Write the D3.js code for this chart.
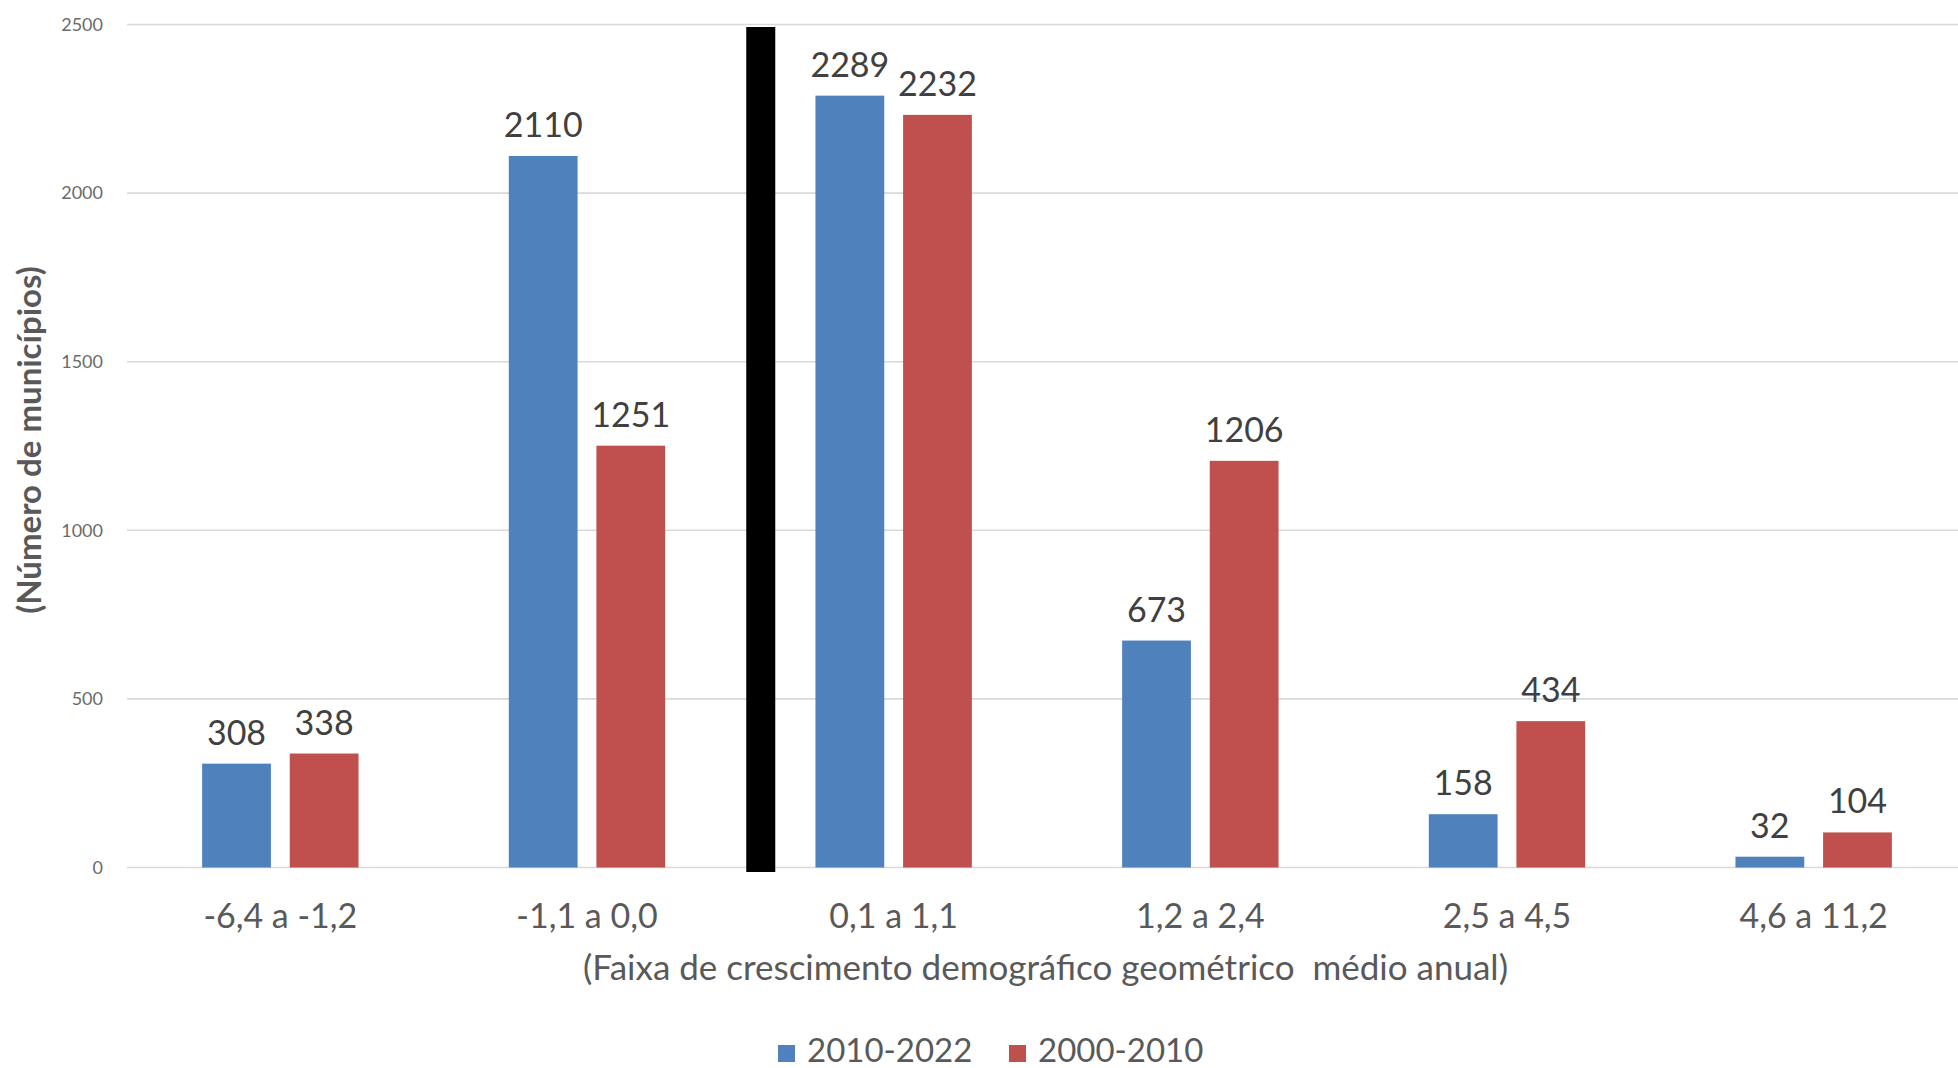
<!DOCTYPE html>
<html>
<head>
<meta charset="utf-8">
<script src="https://cdn.jsdelivr.net/npm/d3@7"></script>
<style>
  html, body { margin: 0; padding: 0; background: #fff; }
  svg { display: block; font-family: Lato, "Open Sans", sans-serif; }
</style>
</head>
<body>
<svg id="chart" width="1958" height="1068"></svg>
<script>
const categories = ["-6,4 a -1,2", "-1,1 a 0,0", "0,1 a 1,1", "1,2 a 2,4", "2,5 a 4,5", "4,6 a 11,2"];
const seriesNames = ["2010-2022", "2000-2010"];
const values2010_2022 = [308, 2110, 2289, 673, 158, 32];
const values2000_2010 = [338, 1251, 2232, 1206, 434, 104];
const yTicks = [0, 500, 1000, 1500, 2000, 2500];
const xTitle = "(Faixa de crescimento demográfico geométrico  médio anual)";
const yTitle = "(Número de municípios)";
const colors = ["#4F81BD", "#C0504D"];

const svg = d3.select("#chart");
const W = 1958, H = 1068;
const plotLeft = 127, plotRight = 1967;

const x0 = d3.scaleBand().domain(categories).range([plotLeft, plotRight])
  .paddingInner(0.49).paddingOuter(0.245);
const x1 = d3.scaleBand().domain(seriesNames).range([0, x0.bandwidth()]).paddingInner(0.215);
const y = d3.scaleLinear().domain([0, 2500]).range([867.5, 24.5]);

// y axis labels
const yAxis = d3.axisLeft(y).tickValues(yTicks).tickFormat(d3.format("d")).tickSize(0).tickPadding(24);
const gAxis = svg.append("g").attr("transform", `translate(${plotLeft},0)`).call(yAxis);
gAxis.select(".domain").remove();
gAxis.selectAll("text").attr("font-size", 18).attr("fill", "#6b6b6b")
  .attr("font-family", "Lato, sans-serif");
// gridlines
svg.append("g").selectAll("line").data(yTicks).join("line")
  .attr("x1", plotLeft).attr("x2", W)
  .attr("y1", d => y(d)).attr("y2", d => y(d))
  .attr("stroke", "#D9D9D9").attr("stroke-width", 1.6);

// data rows
const rows = categories.map((c, i) => ({
  cat: c,
  vals: [
    { s: seriesNames[0], v: values2010_2022[i], c: colors[0] },
    { s: seriesNames[1], v: values2000_2010[i], c: colors[1] }
  ]
}));

const groups = svg.append("g").selectAll("g").data(rows).join("g")
  .attr("transform", d => `translate(${x0(d.cat)},0)`);

groups.selectAll("rect").data(d => d.vals).join("rect")
  .attr("x", d => x1(d.s))
  .attr("width", x1.bandwidth())
  .attr("y", d => y(d.v))
  .attr("height", d => y(0) - y(d.v))
  .attr("fill", d => d.c);

groups.selectAll("text.val").data(d => d.vals).join("text")
  .attr("class", "val")
  .attr("x", d => x1(d.s) + x1.bandwidth() / 2)
  .attr("y", d => y(d.v) - 19)
  .attr("text-anchor", "middle")
  .attr("font-size", 34)
  .attr("fill", "#404040")
  .text(d => d.v);

// divider annotation (black thick bar between negative and positive growth)
const divX = x0(categories[2]) - x0.step() * 0.18;
svg.append("rect")
  .attr("x", divX - 14).attr("width", 29)
  .attr("y", y(2500) + 2.5).attr("height", y(0) - y(2500) + 2)
  .attr("fill", "#000");

// category labels
svg.append("g").selectAll("text").data(categories).join("text")
  .attr("x", d => x0(d) + x0.bandwidth() / 2)
  .attr("y", 928)
  .attr("text-anchor", "middle")
  .attr("font-size", 34)
  .attr("fill", "#595959")
  .text(d => d);

// x title
svg.append("text")
  .attr("x", (583 + 1508) / 2).attr("y", 980)
  .attr("text-anchor", "middle")
  .attr("font-size", 35)
  .attr("fill", "#595959")
  .style("white-space", "pre")
  .attr("xml:space", "preserve")
  .text(xTitle);

// y title
svg.append("text")
  .attr("transform", `translate(41,440) rotate(-90)`)
  .attr("text-anchor", "middle")
  .attr("font-size", 33)
  .attr("font-weight", "bold")
  .attr("fill", "#595959")
  .text(yTitle);

// legend
const legendItems = [
  { name: seriesNames[0], c: colors[0], x: 778 },
  { name: seriesNames[1], c: colors[1], x: 1009 }
];
const lg = svg.append("g").selectAll("g").data(legendItems).join("g")
  .attr("transform", d => `translate(${d.x},0)`);
lg.append("rect").attr("x", 0).attr("y", 1045).attr("width", 17).attr("height", 17).attr("fill", d => d.c);
lg.append("text").attr("x", 29).attr("y", 1062).attr("font-size", 33).attr("fill", "#595959").text(d => d.name);
</script>
</body>
</html>
